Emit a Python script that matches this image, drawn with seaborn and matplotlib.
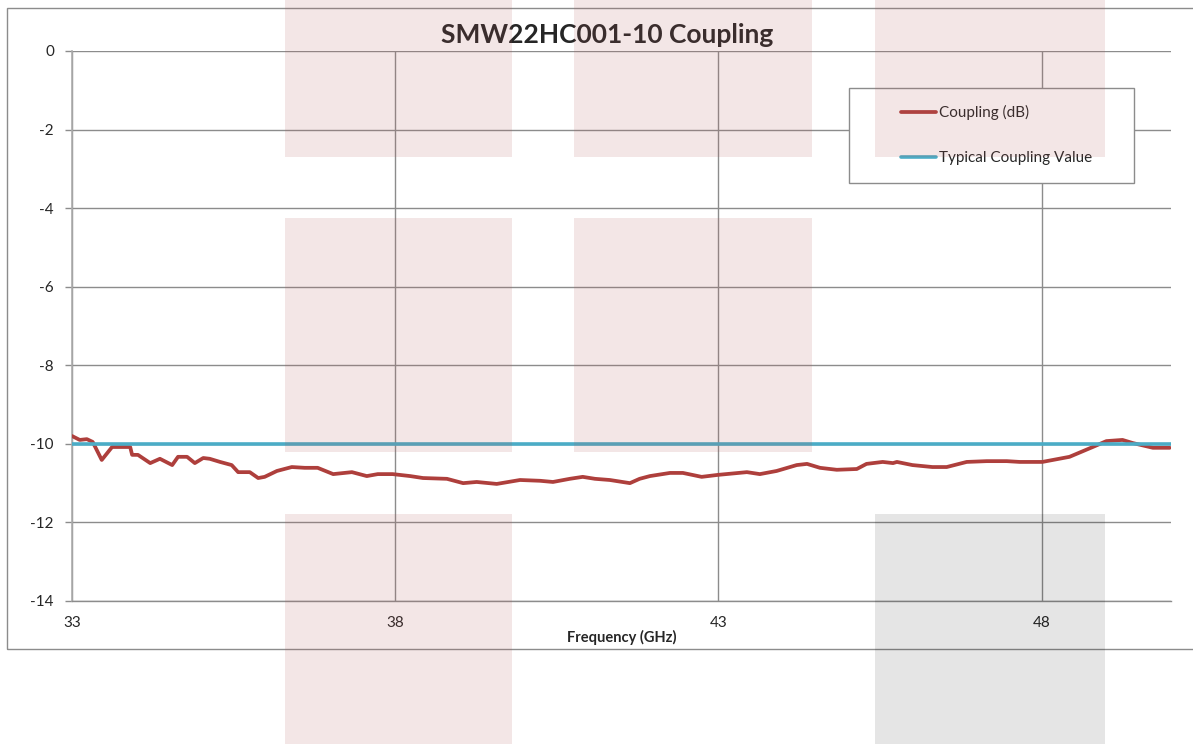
import matplotlib
matplotlib.use("Agg")
import matplotlib.pyplot as plt
from matplotlib.patches import Rectangle
import seaborn as sns
import pandas as pd

# ---- data ----
freq_ghz = [33.00, 33.12, 33.23, 33.32, 33.46, 33.62, 33.71, 33.90, 33.93, 34.02,
            34.21, 34.36, 34.55, 34.64, 34.78, 34.90, 35.03, 35.13, 35.29, 35.47,
            35.57, 35.75, 35.88, 35.98, 36.17, 36.40, 36.60, 36.80, 37.04, 37.33,
            37.56, 37.73, 37.96, 38.23, 38.43, 38.80, 39.05, 39.26, 39.57, 39.93,
            40.24, 40.44, 40.70, 40.90, 41.09, 41.32, 41.63, 41.78, 41.94, 42.25,
            42.45, 42.74, 42.99, 43.44, 43.64, 43.90, 44.21, 44.37, 44.57, 44.83,
            45.14, 45.29, 45.54, 45.70, 45.76, 46.00, 46.31, 46.53, 46.84, 47.15,
            47.46, 47.66, 48.01, 48.43, 48.79, 49.00, 49.25, 49.41, 49.72, 49.98]
coupling_db = [-9.80, -9.90, -9.88, -9.95, -10.41, -10.08, -10.08, -10.08, -10.28, -10.28,
               -10.49, -10.38, -10.54, -10.33, -10.33, -10.49, -10.36, -10.38, -10.46, -10.54,
               -10.72, -10.72, -10.87, -10.84, -10.69, -10.59, -10.61, -10.61, -10.77, -10.72,
               -10.82, -10.77, -10.77, -10.82, -10.87, -10.89, -11.00, -10.97, -11.02, -10.92,
               -10.94, -10.97, -10.89, -10.84, -10.89, -10.92, -11.00, -10.89, -10.82, -10.74,
               -10.74, -10.84, -10.79, -10.72, -10.77, -10.69, -10.54, -10.51, -10.61, -10.66,
               -10.64, -10.51, -10.46, -10.49, -10.46, -10.54, -10.59, -10.59, -10.46, -10.44,
               -10.44, -10.46, -10.46, -10.33, -10.08, -9.93, -9.90, -9.98, -10.10, -10.10]
typical_freq = [33, 50]
typical_db = [-10, -10]

x_ticks = [33, 38, 43, 48]
y_ticks = [0, -2, -4, -6, -8, -10, -12, -14]

title_text = "SMW22HC001-10 Coupling"
x_label = "Frequency (GHz)"
series_names = ["Coupling (dB)", "Typical Coupling Value"]

# ---- style ----
sns.set_theme(style="white")
plt.rcParams["font.family"] = ["Lato", "DejaVu Sans"]

W, H = 1193, 744
fig = plt.figure(figsize=(W / 100, H / 100), dpi=100)
fig.patch.set_facecolor("white")

# outer chart border
fig.patches.append(Rectangle((7 / W, 1 - 649 / H), (W + 10 - 7) / W, (649 - 8) / H,
                             transform=fig.transFigure, fill=False,
                             edgecolor="#8C8C8C", linewidth=1.0, zorder=0))

ax = fig.add_axes([72 / W, 1 - 601 / H, (1171 - 72) / W, (601 - 51) / H])
ax.set_facecolor("white")

df_c = pd.DataFrame({"f": freq_ghz, "v": coupling_db})
df_t = pd.DataFrame({"f": typical_freq, "v": typical_db})
sns.lineplot(data=df_c, x="f", y="v", ax=ax, color="#AE3F3C", linewidth=2.7,
             label=series_names[0], zorder=3)
sns.lineplot(data=df_t, x="f", y="v", ax=ax, color="#4BACC6", linewidth=2.6,
             label=series_names[1], zorder=4)

ax.set_xlim(33, 50)
ax.set_ylim(-14, 0)
ax.set_xticks(x_ticks)
ax.set_yticks(y_ticks)
ax.set_yticklabels([str(t) for t in y_ticks])
ax.grid(True, color="#8C8C8C", linewidth=1.0)
ax.set_axisbelow(True)
for s in ["top", "right"]:
    ax.spines[s].set_visible(False)
ax.spines["left"].set_color("#ABABAB")
ax.spines["left"].set_linewidth(1.2)
ax.spines["left"].set_zorder(2.5)
ax.spines["bottom"].set_color("#8C8C8C")
ax.spines["bottom"].set_linewidth(1.0)
ax.tick_params(axis="y", which="major", left=True, length=5, width=1.0,
               color="#8C8C8C", pad=8, labelsize=11, labelcolor="#262626")
ax.tick_params(axis="x", which="major", bottom=False, length=0, pad=11,
               labelsize=11, labelcolor="#262626")
ax.set_xlabel(x_label, fontsize=10.5, fontweight="bold", color="#262626", labelpad=0)
ax.set_ylabel("")

fig.text(607 / W, 1 - 35 / H, title_text, ha="center", va="center",
         fontsize=19, fontweight="bold", color="#262626")

# legend
ax.get_legend().remove()
handles, labels = ax.get_legend_handles_labels()
fig.patches.append(Rectangle((849 / W, 1 - 183 / H), (1134 - 849) / W, (183 - 88) / H,
                             transform=fig.transFigure, facecolor="white",
                             edgecolor="#8C8C8C", linewidth=1.0, zorder=5))
leg = fig.legend(handles, labels, loc="center left",
                 bbox_to_anchor=(893 / W, 1 - 135 / H), frameon=False,
                 borderpad=0, handlelength=2.3, handletextpad=0.2,
                 labelspacing=2.05, fontsize=11)
leg.set_zorder(6)
for t in leg.get_texts():
    t.set_color("#262626")

# watermark overlay blocks
pink = (175 / 255, 88 / 255, 88 / 255)
cols = [(285, 512), (574, 812), (875, 1105)]
rows = [(0, 157), (218, 452), (514, 744)]
blocks = [(0, 0, pink), (0, 1, pink), (0, 2, pink),
          (1, 0, pink), (1, 1, pink),
          (2, 0, pink), (2, 2, (0, 0, 0))]
for ci, ri, col in blocks:
    x0, x1 = cols[ci]
    y0, y1 = rows[ri]
    a = 0.15 if col == pink else 0.10
    fig.patches.append(Rectangle((x0 / W, 1 - y1 / H), (x1 - x0) / W, (y1 - y0) / H,
                                 transform=fig.transFigure, facecolor=col, alpha=a,
                                 edgecolor="none", zorder=20))

fig.savefig("out.png", dpi=100)
